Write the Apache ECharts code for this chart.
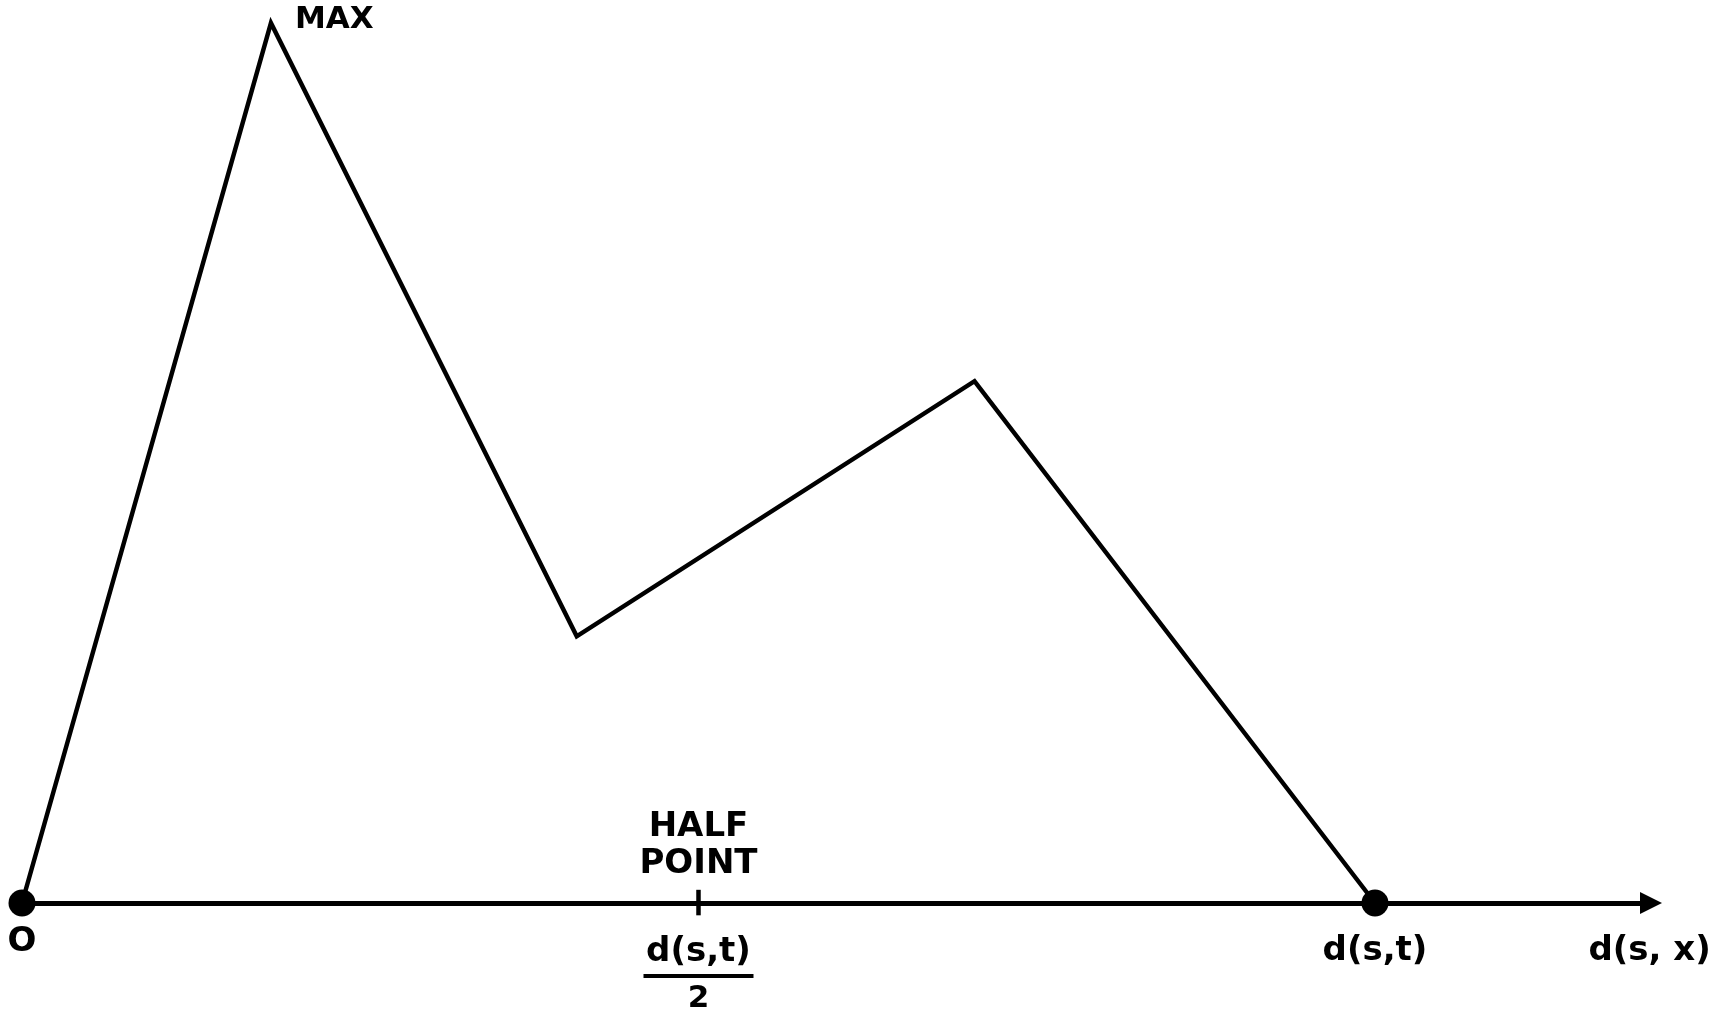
<!DOCTYPE html>
<html>
<head>
<meta charset="utf-8">
<script src="https://cdn.jsdelivr.net/npm/echarts@6/dist/echarts.min.js"></script>
<style>
html,body{margin:0;padding:0;background:#fff;}
#c{width:1725px;height:1015px;}
</style>
</head>
<body>
<div id="c"></div>
<script>
// Profile of the curve along d(s,x); d(s,t) = 100, MAX = 100
const xValues = [0, 18.4, 41.0, 70.4, 100];
const yValues = [0, 100, 30.3, 59.3, 0];
const endpointX = [0, 100];
const halfX = 50;
const tickSpan = [-1.4, 1.5];
const axisMax = 120.4;
const axisLabelText = ['O', 'd(s,t)', 'd(s, x)'];
const axisLabelX = [0, 100, 120.3];

const FONT = 'DejaVu Sans';
const INK = '#000';
const curve = xValues.map((x, i) => [x, yValues[i]]);

function lab(o) {
  return Object.assign({show: true, color: INK, opacity: 1, fontFamily: FONT, fontWeight: 'bold'}, o);
}

const labelData = [
  {value: [xValues[1], yValues[1]], label: lab({formatter: 'MAX', position: 'right', distance: 24, offset: [0, -3], fontSize: 31})},
  {value: [halfX, tickSpan[1]], label: lab({formatter: 'HALF\nPOINT', position: 'top', distance: 7, fontSize: 34, lineHeight: 37, align: 'center'})},
  {value: [halfX, 0], label: lab({position: 'bottom', distance: 31,
    formatter: '{num|d(s,t)}\n{bar|}\n{den|2}',
    rich: {
      num: {fontSize: 34, lineHeight: 36, fontFamily: FONT, fontWeight: 'bold', color: INK, align: 'center'},
      bar: {width: 110, height: 4, lineHeight: 12, backgroundColor: INK, align: 'center'},
      den: {fontSize: 31, lineHeight: 34, fontFamily: FONT, fontWeight: 'bold', color: INK, align: 'center'}
    }})}
].concat(axisLabelText.map((t, i) => ({
  value: [axisLabelX[i], 0],
  label: lab({formatter: t, position: 'bottom', distance: i === 0 ? 22 : 31, fontSize: 34})
})));

const chart = echarts.init(document.getElementById('c'), null, {renderer: 'canvas'});
chart.setOption({
  backgroundColor: '#fff',
  animation: false,
  textStyle: {color: INK},
  grid: {left: 22, right: 74, top: 23, bottom: 112, containLabel: false},
  xAxis: {
    type: 'value', min: 0, max: axisMax,
    axisLine: {show: true, onZero: true, symbol: ['none', 'triangle'], symbolSize: [22, 22],
      lineStyle: {color: INK, width: 5, opacity: 1}},
    axisTick: {show: false}, axisLabel: {show: false}, splitLine: {show: false}
  },
  yAxis: {
    type: 'value', min: 0, max: 100, show: false,
    axisLine: {show: false}, splitLine: {show: false}
  },
  series: [
    {
      type: 'line', data: curve, symbol: 'none', clip: false, z: 3,
      lineStyle: {color: INK, width: 4.5, opacity: 1, join: 'miter', miterLimit: 20}
    },
    {
      type: 'line', data: tickSpan.map(v => [halfX, v]), symbol: 'none', clip: false, z: 3,
      lineStyle: {color: INK, width: 4.5, opacity: 1}
    },
    {
      type: 'scatter', data: endpointX.map(x => [x, 0]), symbol: 'circle', symbolSize: 27,
      itemStyle: {color: INK, opacity: 1}, clip: false, z: 5
    },
    {
      type: 'scatter', data: labelData, symbolSize: 0, clip: false, z: 6,
      itemStyle: {color: INK, opacity: 1}
    }
  ]
});
</script>
</body>
</html>
